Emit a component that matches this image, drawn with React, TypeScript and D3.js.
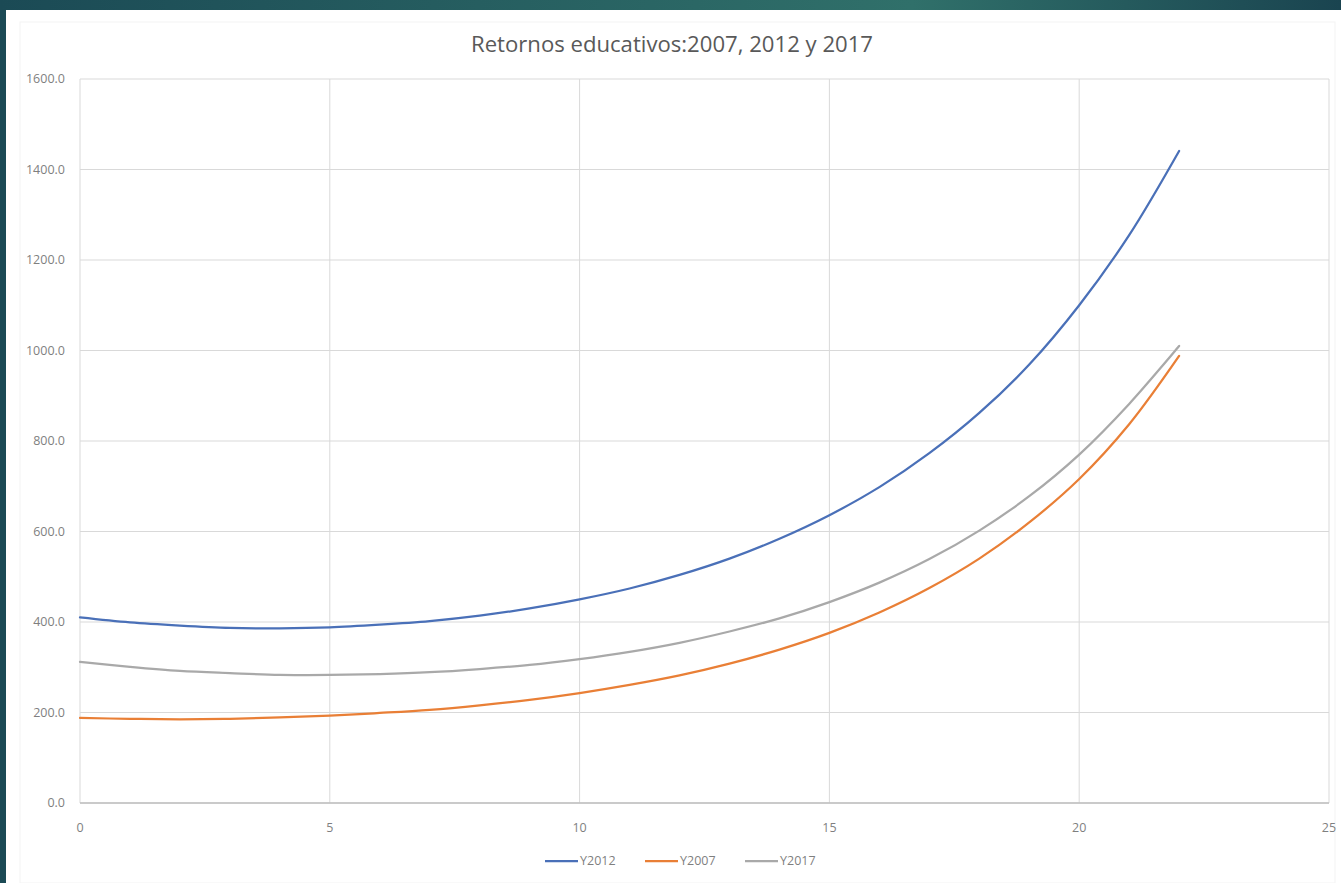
import React from "react";
import * as d3 from "d3";

const years: number[] = d3.range(0, 23);
const y2012: number[] = [410, 399, 392, 387, 386, 388, 394, 402, 414, 430, 450, 474, 504, 540, 584, 636, 698, 773, 862, 969, 1100, 1255, 1441];
const y2007: number[] = [188, 186, 185, 186, 189, 193, 199, 206, 216, 228, 243, 261, 282, 308, 339, 376, 421, 475, 540, 620, 716, 837, 988];
const y2017: number[] = [312, 301, 292, 287, 283, 283, 285, 289, 296, 305, 318, 334, 354, 379, 408, 444, 487, 539, 602, 678, 770, 882, 1010];
const xTicks: number[] = [0, 5, 10, 15, 20, 25];
const yTicks: number[] = [0, 200, 400, 600, 800, 1000, 1200, 1400, 1600];
const seriesNames: string[] = ["Y2012", "Y2007", "Y2017"];
const seriesColors: string[] = ["#4a70b8", "#e97f36", "#a9a9a9"];
const title = "Retornos educativos:2007, 2012 y 2017";

export default function App() {
  const W = 1341, H = 883;
  const x = d3.scaleLinear().domain([0, 25]).range([80, 1329]);
  const y = d3.scaleLinear().domain([0, 1600]).range([803, 79]);
  const series = [y2012, y2007, y2017];
  const line = d3
    .line<number>()
    .x((_, i) => x(years[i]))
    .y((v) => y(v))
    .curve(d3.curveCatmullRom.alpha(0.5));
  const font = "'Open Sans', 'Noto Sans', sans-serif";
  const legendX = [545, 645, 745];
  return (
    <svg width={W} height={H} style={{ position: "absolute", left: 0, top: 0 }} fontFamily={font}>
      <defs>
        <linearGradient id="band" x1="0" x2="1" y1="0" y2="0">
          <stop offset="0" stopColor="#1b4a55" />
          <stop offset="0.68" stopColor="#30706a" />
          <stop offset="1" stopColor="#1a4450" />
        </linearGradient>
      </defs>
      <rect x={0} y={0} width={W} height={H} fill="#1b4a55" />
      <rect x={0} y={0} width={W} height={11} fill="url(#band)" />
      <rect x={6} y={10} width={W - 6} height={H - 10} fill="#ffffff" />
      <rect x={20} y={22} width={W - 26} height={H - 22} fill="none" stroke="#f3f3f3" strokeWidth={1} />
      <text x={672} y={52} textAnchor="middle" fontSize={21} fill="#595959" textLength={402} lengthAdjust="spacingAndGlyphs">
        {title}
      </text>
      {yTicks.map((t) => (
        <g key={"y" + t}>
          <line x1={x(0)} x2={x(25)} y1={y(t)} y2={y(t)} stroke="#d9d9d9" strokeWidth={1} />
          <text x={65} y={y(t) + 4} textAnchor="end" fontSize={12.5} fill="#7f7f7f">
            {t.toFixed(1)}
          </text>
        </g>
      ))}
      {xTicks.map((t) => (
        <g key={"x" + t}>
          <line x1={x(t)} x2={x(t)} y1={y(0)} y2={y(1600)} stroke="#d9d9d9" strokeWidth={1} />
          <text x={x(t)} y={832} textAnchor="middle" fontSize={12.5} fill="#7f7f7f">
            {t}
          </text>
        </g>
      ))}
      <line x1={x(0)} x2={x(25)} y1={y(0)} y2={y(0)} stroke="#bfbfbf" strokeWidth={1.3} />
      {series.map((s, i) => (
        <path key={seriesNames[i]} d={line(s) || ""} fill="none" stroke={seriesColors[i]} strokeWidth={2.25} strokeLinecap="round" />
      ))}
      {seriesNames.map((n, i) => (
        <g key={"lg" + n}>
          <line x1={legendX[i]} x2={legendX[i] + 33} y1={861} y2={861} stroke={seriesColors[i]} strokeWidth={2.25} />
          <text x={legendX[i] + 35} y={865} fontSize={12.5} fill="#7f7f7f">
            {n}
          </text>
        </g>
      ))}
    </svg>
  );
}
